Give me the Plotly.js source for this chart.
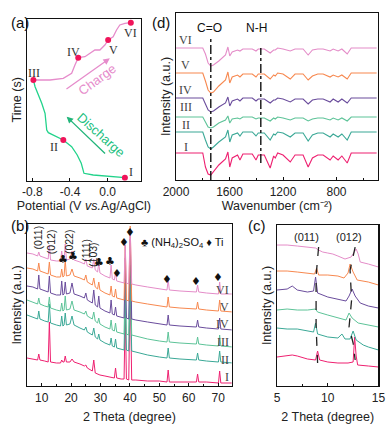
<!DOCTYPE html>
<html>
<head>
<meta charset="utf-8">
<script src="https://cdn.plot.ly/plotly-3.0.1.min.js"></script>
<style>
  html, body { margin: 0; padding: 0; background: #fff; }
  #chart { width: 387px; height: 424px; }
</style>
</head>
<body>
<div id="chart"></div>
<script>
// ---- shared ----
const stateNames = ["I", "II", "III", "IV", "V", "VI"];
const stateColors = ["#ee2070", "#3aa896", "#5dc398", "#6a4c9c", "#f7884f", "#e48cc8"];

// ---- (a) charge / discharge curve ----
const dischargeV = [0.184, 0.024, -0.153, -0.251, -0.265, -0.280, -0.323, -0.382, -0.471, -0.559, -0.630, -0.647, -0.655, -0.665, -0.700, -0.736, -0.771, -0.789];
const dischargeT = [3, 4, 5.7, 7.4, 12.4, 17.4, 25.7, 34, 40.7, 44.7, 48, 50.7, 57.4, 67.4, 77.4, 85.7, 94, 100.7];
const chargeV = [-0.789, -0.612, -0.471, -0.382, -0.347, -0.312, -0.241, -0.188, -0.135, -0.082, -0.029, 0.006, 0.059, 0.095, 0.130, 0.184, 0.247];
const chargeT = [100.7, 100.7, 102.4, 107.4, 115.7, 123, 124, 127.4, 130.7, 130.7, 135.7, 140.7, 144, 150.7, 155.7, 157.4, 158];
const stateV = [0.184, -0.471, -0.789, -0.312, 0.006, 0.247];
const stateT = [3, 40.7, 100.7, 123, 140.7, 158];
const stateLabelV = [0.249, -0.57, -0.782, -0.358, 0.06, 0.247];
const stateLabelT = [9, 34, 107.7, 129, 130.7, 147.4];

// ---- (d) FTIR ----
const wavenumber = [2000, 1800, 1780, 1760, 1740, 1720, 1680, 1630, 1612, 1598, 1580, 1540, 1522, 1500, 1430, 1402, 1385, 1340, 1296, 1270, 1258, 1240, 1200, 1146, 1110, 1050, 1012, 980, 940, 900, 848, 825, 788, 760, 720, 690, 620, 500];
const ftirI   = [0, 0, -14, -21, -22, -19, -12, -6, 1, -14, -5, -2, -7, -1, -1, -7, -2, -2, -15, -3, -5, 0, -2, -9, -2, -2, -14, -5, -2, -2, -7, -3, -7, -3, -10, 0, 0, 0];
const ftirII  = [0, 0, -8, -15, -17, -15, -10, -5, 2, -10, -3, -1, -4, 0, 0, -4, -1, -1, -8, -2, -3, 0, -1, -5, -1, -1, -9, -3, -1, -1, -5, -2, -5, -2, -8, 0, 0, 0];
const ftirIII = [0, 0, -5, -10, -11, -10, -6, -3, 1, -6, -2, -1, -2, 0, 0, -2, -1, -1, -4, -1, -2, 0, -1, -3, -1, -1, -4, -2, -1, -1, -3, -1, -3, -1, -4, 0, 0, 0];
const ftirIV  = [0, 0, -6, -12, -14, -13, -9, -5, 1, -8, -3, -1, -3, 0, 0, -3, -1, -1, -5, -2, -2, 0, -1, -4, -1, -1, -6, -2, -1, -1, -4, -1, -4, -1, -5, 0, 0, 0];
const ftirV   = [0, 0, -8, -17, -20, -19, -13, -7, 1, -10, -4, -2, -4, -1, -1, -4, -1, -1, -6, -2, -3, 0, -1, -6, -1, -1, -7, -3, -1, -1, -4, -2, -4, -2, -6, 0, 0, 0];
const ftirVI  = [0, 0, -6, -15, -18, -17, -13, -7, 1, -8, -4, -2, -3, -1, -1, -3, -1, -1, -5, -2, -2, 0, -1, -3, -1, -1, -7, -2, -1, -1, -3, -1, -3, -1, -6, 0, 0, 0];
const ftirOffset = [27, 48, 63, 82, 107, 132];
const ftirLabelLevel = [33, 55, 73, 90, 115, 140];
const bandWavenumber = [1740, 1366];
const bandNames = ["C=O", "N-H"];

// ---- (b) XRD full range ----
const twoTheta = [5, 7, 8.6, 9, 9.4, 11, 12.2, 12.6, 13, 15, 16.4, 16.8, 17.2, 17.6, 18, 18.4, 19.6, 20.3, 21, 23, 24.5, 25, 25.5, 27.2, 27.7, 28.2, 29, 29.4, 29.8, 31.5, 33.2, 33.6, 34, 34.7, 35.1, 35.5, 37, 38, 38.4, 38.8, 39.6, 40.1, 40.6, 42, 46, 50, 52.6, 53, 53.4, 57, 62.6, 63, 63.4, 66, 70.1, 70.5, 70.9, 75];
const xrdI   = [25, 24, 23, 29, 23, 22, 21, 61, 21, 20, 20, 23, 21, 21, 27, 21, 21, 24, 21, 19, 17, 18, 15, 12, 23, 10, 9, 8, 8, 7, 6, 6, 6, 5, 15, 5, 4, 4, 74, 4, 3, 98, 3, 3, 2, 2, 1, 13, 1, 1, 1, 9, 1, 1, 0, 12, 0, 0];
const xrdII  = [48, 46, 44, 52, 44, 42, 41, 59, 40, 38, 37, 47, 37, 38, 50, 38, 39, 47, 38, 35, 33, 36, 31, 28, 35, 26, 24, 29, 23, 20, 18, 25, 17, 16, 24, 15, 14, 13, 68, 13, 12, 87, 12, 11, 8, 6, 5, 15, 5, 4, 3, 10, 3, 2, 1, 12, 1, 0];
const xrdIII = [47, 45, 43, 49, 43, 41, 40, 50, 39, 37, 36, 44, 36, 37, 51, 37, 38, 46, 37, 35, 33, 36, 31, 28, 35, 26, 24, 29, 23, 20, 18, 27, 17, 16, 24, 15, 14, 13, 68, 13, 12, 82, 12, 11, 8, 6, 5, 15, 5, 4, 3, 10, 3, 2, 1, 12, 1, 0];
const xrdIV  = [44, 43, 41, 55, 41, 39, 38, 54, 37, 35, 35, 49, 35, 36, 48, 36, 37, 47, 36, 34, 32, 37, 30, 27, 40, 25, 23, 34, 22, 19, 17, 30, 16, 15, 23, 14, 13, 12, 72, 12, 11, 91, 11, 10, 8, 6, 5, 15, 5, 4, 3, 10, 3, 2, 1, 12, 1, 0];
const xrdV   = [44, 43, 41, 49, 41, 39, 38, 50, 37, 35, 35, 43, 35, 36, 52, 36, 37, 43, 36, 34, 32, 37, 30, 27, 34, 25, 23, 30, 22, 19, 17, 26, 16, 15, 23, 14, 13, 12, 67, 12, 11, 86, 11, 10, 8, 6, 5, 15, 5, 4, 3, 10, 3, 2, 1, 12, 1, 0];
const xrdVI  = [41, 40, 38, 42, 38, 36, 35, 49, 34, 33, 33, 43, 33, 34, 50, 34, 35, 43, 34, 32, 30, 35, 28, 26, 35, 24, 22, 31, 21, 18, 16, 29, 15, 14, 22, 13, 12, 11, 49, 11, 10, 65, 10, 9, 7, 5, 4, 14, 4, 3, 2, 9, 2, 1, 0, 12, 0, 0];
const xrdOffset = [3, 23, 39, 56, 74, 92];
const millerNames = ["(011)", "(012)", "(022)", "(111)", "(103)"];
const millerTheta = [8.6, 13.2, 19.3, 25.0, 27.4];
const millerLevel = [148, 144, 144, 136, 132];
const sulfateTheta = [17.1, 20.5, 29.6, 33.2];
const sulfateLevel = [126, 129, 123, 124];
const tiTheta = [35.5, 38.1, 40.0, 52.7, 62.4, 70.0];
const tiLevel = [112, 143, 153, 106, 104, 108];
const xrdLabelLevel = [9, 26, 44, 62, 79, 96];

// ---- (c) XRD zoom 5-15 ----
const zoomTheta = [
  [5, 6, 6.5, 7, 8, 8.8, 9.0, 9.2, 10, 11, 12, 12.5, 12.65, 12.8, 12.95, 14, 15],
  [5, 6, 7, 8, 8.6, 8.8, 9.0, 10, 11, 11.4, 11.7, 12.2, 12.5, 12.8, 13.5, 14, 15],
  [5, 6, 7, 8, 8.8, 9.0, 10, 11, 11.8, 12.1, 12.4, 13, 14, 15],
  [5, 6, 6.5, 7, 8, 8.6, 8.8, 9.0, 10, 11, 11.8, 12.1, 12.4, 12.7, 13.2, 14, 15],
  [5, 6, 7, 8, 8.7, 8.9, 9.1, 10, 11, 11.6, 12.0, 12.2, 12.5, 12.9, 14, 15],
  [5, 6, 7, 8, 8.8, 9.1, 9.5, 10, 10.5, 11, 11.7, 12.3, 12.6, 12.8, 13, 13.2, 14, 15]
];
const zoomIntensity = [
  [10, 11, 12, 11, 8, 7, 16, 7, 5, 4, 4, 5, 30, 11, 2, 1, 0],
  [22, 21, 21, 19, 18, 27, 16, 13, 12, 16, 11, 11, 19, 10, 5, 3, 0],
  [17, 18, 17, 17, 18, 15, 12, 9, 7, 14, 9, 4, 2, 0],
  [18, 19, 22, 18, 16, 17, 31, 15, 11, 9, 7, 12, 19, 12, 5, 2, 0],
  [14, 14, 13, 12, 11, 17, 10, 10, 9, 7, 12, 21, 13, 5, 3, 0],
  [22, 22, 21, 20, 19, 17, 15, 14, 13, 11, 8, 10, 15, 18, 13, 5, 3, 0]
];
const zoomOffset = [19, 36, 59, 78, 101, 119];
const guide011Theta = [9.1, 8.85, 8.85, 9.0];
const guide011Level = [139, 110, 60, 23];
const guide012Theta = [12.7, 12.2, 12.35, 12.1, 12.5, 12.7];
const guide012Level = [139, 116, 86, 59, 43, 26];

const ftirSeries = [ftirI, ftirII, ftirIII, ftirIV, ftirV, ftirVI];
const xrdSeries = [xrdI, xrdII, xrdIII, xrdIV, xrdV, xrdVI];

const sans = "Liberation Sans, Arial, sans-serif";
const serif = "Liberation Serif, Times New Roman, serif";
const traces = [];

// (a)
traces.push({ x: dischargeV, y: dischargeT, xaxis: "x", yaxis: "y", mode: "lines",
  line: { color: "#22d38b", width: 1.3 } });
traces.push({ x: chargeV, y: chargeT, xaxis: "x", yaxis: "y", mode: "lines",
  line: { color: "#e68ccb", width: 1.3 } });
traces.push({ x: stateV, y: stateT, xaxis: "x", yaxis: "y", mode: "markers",
  marker: { color: "#f0145a", size: 6 } });

// (d)
ftirSeries.forEach((s, i) => {
  traces.push({ x: wavenumber, y: s.map(v => v + ftirOffset[i]), xaxis: "x2", yaxis: "y2",
    mode: "lines", line: { color: stateColors[i], width: 1.1 } });
});
traces.push({ x: [bandWavenumber[0], bandWavenumber[0]], y: [0, 143], xaxis: "x2", yaxis: "y2",
  mode: "lines", line: { color: "#111", width: 1.4, dash: "dashdot" } });
traces.push({ x: [bandWavenumber[1], bandWavenumber[1]], y: [17, 132], xaxis: "x2", yaxis: "y2",
  mode: "lines", line: { color: "#111", width: 1.4, dash: "dashdot" } });

// (b)
xrdSeries.forEach((s, i) => {
  traces.push({ x: twoTheta, y: s.map(v => v + xrdOffset[i]), xaxis: "x3", yaxis: "y3",
    mode: "lines", line: { color: stateColors[i], width: 1 } });
});

// (c)
zoomIntensity.forEach((s, i) => {
  traces.push({ x: zoomTheta[i], y: s.map(v => v + zoomOffset[i]), xaxis: "x4", yaxis: "y4",
    mode: "lines", line: { color: stateColors[i], width: 1 } });
});
traces.push({ x: guide011Theta, y: guide011Level, xaxis: "x4", yaxis: "y4", mode: "lines",
  line: { color: "#222", width: 1.3, dash: "dash" } });
traces.push({ x: guide012Theta, y: guide012Level, xaxis: "x4", yaxis: "y4", mode: "lines",
  line: { color: "#222", width: 1.3, dash: "dash" } });

const annotations = [];
const paperLabel = (text, px, py) => annotations.push({ text, xref: "paper", yref: "paper",
  x: px / 387, y: 1 - py / 424, showarrow: false, font: { family: sans, size: 15, color: "#111" } });
paperLabel("(a)", 9, 12);
paperLabel("(d)", 161, 12);
paperLabel("(b)", 9, 225);
paperLabel("(c)", 257, 225);

// (a) labels
stateNames.forEach((n, i) => {
  annotations.push({ text: n, xref: "x", yref: "y", x: stateLabelV[i], y: stateLabelT[i], showarrow: false,
    font: { family: serif, size: 12, color: "#333" } });
});
annotations.push({ text: "", xref: "x", yref: "y", axref: "x", ayref: "y", x: 0.024, y: 122.4, ax: -0.453, ay: 90.7,
  showarrow: true, arrowhead: 2, arrowsize: 1, arrowwidth: 1.3, arrowcolor: "#e68ccb" });
annotations.push({ text: "", xref: "x", yref: "y", axref: "x", ayref: "y", x: -0.435, y: 64, ax: -0.011, ay: 25.7,
  showarrow: true, arrowhead: 2, arrowsize: 1, arrowwidth: 1.3, arrowcolor: "#22b57a" });
annotations.push({ text: "Charge", xref: "x", yref: "y", x: -0.11, y: 101, showarrow: false, textangle: -36,
  font: { family: sans, size: 13, color: "#e68ccb" } });
annotations.push({ text: "Discharge", xref: "x", yref: "y", x: -0.06, y: 45.7, showarrow: false, textangle: 42,
  font: { family: sans, size: 13, color: "#22c080" } });

// (d) labels
stateNames.forEach((n, i) => {
  annotations.push({ text: n, xref: "x2", yref: "y2", x: 1929, y: ftirLabelLevel[i], showarrow: false,
    font: { family: serif, size: 12, color: "#444" } });
});
annotations.push({ text: bandNames[0], xref: "x2", yref: "y2", x: 1753, y: 152, showarrow: false,
  font: { family: sans, size: 12, color: "#111" } });
annotations.push({ text: bandNames[1], xref: "x2", yref: "y2", x: 1400, y: 152, showarrow: false,
  font: { family: sans, size: 12, color: "#111" } });

// (b) labels
millerNames.forEach((n, i) => {
  annotations.push({ text: n, xref: "x3", yref: "y3", x: millerTheta[i], y: millerLevel[i], showarrow: false,
    textangle: -90, font: { family: sans, size: 10.5, color: "#222" } });
});
sulfateTheta.forEach((t, i) => {
  annotations.push({ text: "♣", xref: "x3", yref: "y3", x: t, y: sulfateLevel[i], showarrow: false,
    font: { family: "DejaVu Sans", size: 11, color: "#111" } });
});
tiTheta.forEach((t, i) => {
  annotations.push({ text: "♦", xref: "x3", yref: "y3", x: t, y: tiLevel[i], showarrow: false,
    font: { family: "DejaVu Sans", size: 11, color: "#111" } });
});
annotations.push({ text: "♣ (NH<sub>4</sub>)<sub>2</sub>SO<sub>4</sub> ♦ Ti", xref: "x3", yref: "y3", x: 58, y: 143,
  showarrow: false, font: { family: sans, size: 11, color: "#111" } });
stateNames.forEach((n, i) => {
  annotations.push({ text: n, xref: "x3", yref: "y3", x: 74.2, y: xrdLabelLevel[i], xanchor: "right", showarrow: false,
    font: { family: serif, size: 12, color: "#444" } });
});

// (c) labels
annotations.push({ text: "(011)", xref: "x4", yref: "y4", x: 7.95, y: 149, showarrow: false,
  font: { family: sans, size: 11, color: "#222" } });
annotations.push({ text: "(012)", xref: "x4", yref: "y4", x: 12.07, y: 149, showarrow: false,
  font: { family: sans, size: 11, color: "#222" } });

const axisBase = {
  showline: true, mirror: true, linecolor: "#111", linewidth: 1.2, showgrid: false, zeroline: false,
  ticks: "inside", ticklen: 3, tickcolor: "#111", tickfont: { family: sans, size: 12, color: "#222" }
};
const yBase = Object.assign({}, axisBase, { showticklabels: false, ticks: "" });
const titleFont = { family: sans, size: 12.5, color: "#222" };

const layout = {
  width: 387, height: 424, margin: { l: 0, r: 0, t: 0, b: 0 },
  paper_bgcolor: "#fff", plot_bgcolor: "#fff", showlegend: false,
  xaxis: Object.assign({}, axisBase, { domain: [0.069, 0.3643], range: [-0.86, 0.355], anchor: "y",
    tickvals: [-0.8, -0.4, 0], ticktext: ["-0.8", "-0.4", "0.0"],
    title: { text: "Potential (V <i>vs.</i>Ag/AgCl)", font: titleFont, standoff: 0 } }),
  yaxis: Object.assign({}, yBase, { domain: [0.5738, 0.9552], range: [0, 161.7], anchor: "x",
    title: { text: "Time (s)", font: titleFont, standoff: 1 } }),
  xaxis2: Object.assign({}, axisBase, { domain: [0.4548, 0.9767], range: [2000, 490], anchor: "y2",
    tickvals: [2000, 1600, 1200, 800], minor: { ticks: "inside", ticklen: 2, dtick: 200, tickcolor: "#111" },
    title: { text: "Wavenumber (cm⁻²)", font: titleFont, standoff: 0 } }),
  yaxis2: Object.assign({}, yBase, { domain: [0.5755, 0.9693], range: [0, 167], anchor: "x2",
    title: { text: "Intensity (a.u.)", font: titleFont, standoff: 1 } }),
  xaxis3: Object.assign({}, axisBase, { domain: [0.0698, 0.5987], range: [5, 74.6], anchor: "y3",
    tickvals: [10, 20, 30, 40, 50, 60, 70], minor: { ticks: "inside", ticklen: 2, dtick: 5, tickcolor: "#111" },
    title: { text: "2 Theta (degree)", font: titleFont, standoff: 9 } }),
  yaxis3: Object.assign({}, yBase, { domain: [0.0896, 0.4717], range: [0, 162], anchor: "x3",
    title: { text: "Intensity (a.u.)", font: titleFont, standoff: 1 } }),
  xaxis4: Object.assign({}, axisBase, { domain: [0.7158, 0.978], range: [5, 15], anchor: "y4",
    tickvals: [5, 10, 15], minor: { ticks: "inside", ticklen: 2, dtick: 2.5, tickcolor: "#111" },
    title: { text: "2 Theta (degree)", font: titleFont, standoff: 9 } }),
  yaxis4: Object.assign({}, yBase, { domain: [0.0896, 0.4693], range: [0, 161], anchor: "x4",
    title: { text: "Intensity (a.u.)", font: titleFont, standoff: 1 } }),
  annotations
};

Plotly.newPlot("chart", traces, layout, { staticPlot: true, displayModeBar: false });
</script>
</body>
</html>
